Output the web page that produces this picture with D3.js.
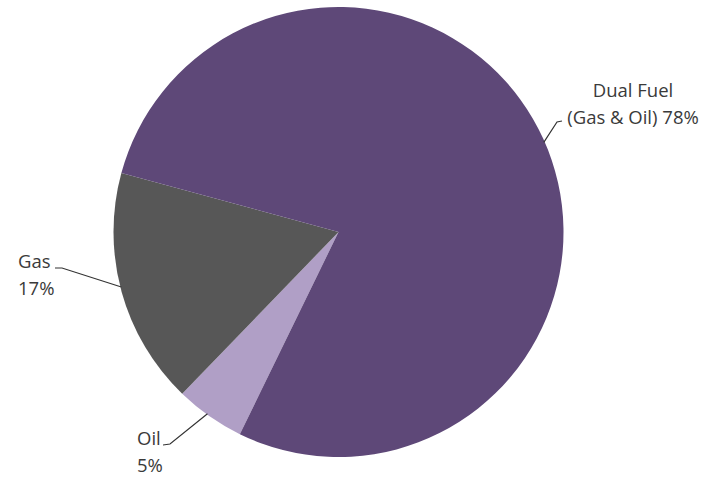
<!DOCTYPE html>
<html>
<head>
<meta charset="utf-8">
<script src="https://cdn.jsdelivr.net/npm/d3@7"></script>
<style>
  body { margin: 0; background: #fff; }
  text { font-family: "Open Sans", sans-serif; fill: #3a3a3a; }
</style>
</head>
<body>
<svg id="chart" width="717" height="479"></svg>
<script>
// slices in clockwise order, starting at the oil wedge
const categories = ['Oil', 'Gas', 'Dual Fuel'];
const shares     = [5, 17, 78];
const colors     = ['#b09fc6', '#575757', '#5e4878'];
// label lines, one array per slice
const labelLines = [['Oil', '5%'], ['Gas', '17%'], ['Dual Fuel', '(Gas & Oil) 78%']];

const W = 717, H = 479;
const cx = 338.5, cy = 232, R = 225;

const svg = d3.select('#chart');
const g = svg.append('g').attr('transform', `translate(${cx},${cy})`);

const pie = d3.pie()
  .sort(null)
  .value(d => d)
  .startAngle(206 * Math.PI / 180)
  .endAngle((206 + 360) * Math.PI / 180);

const arc = d3.arc().innerRadius(0).outerRadius(R);
const arcs = pie(shares);

g.selectAll('.slice').data(arcs)
  .enter()
  .append('path')
    .classed('slice', true)
    .attr('d', arc)
    .attr('fill', (d, i) => colors[i]);

// label placement, in page coords: text anchor, text x, first baseline, tick near the text, angle where the leader meets the pie
const labelPos = [
  {anchor: 'start',  x: 137, y: 445, tick: [[163, 445], [170, 444]], angle: 215.8},
  {anchor: 'start',  x: 18,  y: 268, tick: [[55, 268], [62, 268]],   angle: 255.8},
  {anchor: 'middle', x: 633, y: 97,  tick: [[562, 121], [557, 122]], angle: 66.4}
];

const leaderArc = d3.arc().innerRadius(R - 1).outerRadius(R - 1);

labelPos.forEach((p, i) => {
  const a = p.angle * Math.PI / 180;
  const [ex, ey] = leaderArc.centroid({startAngle: a, endAngle: a});
  const pts = [...p.tick, [ex + cx, ey + cy]];
  svg.append('path')
    .attr('d', d3.line()(pts))
    .attr('fill', 'none')
    .attr('stroke', '#333')
    .attr('stroke-width', 1.2);

  const t = svg.append('text')
    .attr('text-anchor', p.anchor)
    .attr('font-size', 18.5);
  labelLines[i].forEach((line, j) => {
    t.append('tspan')
      .attr('x', p.x)
      .attr('y', p.y + j * 26.5)
      .text(line);
  });
});
</script>
</body>
</html>
